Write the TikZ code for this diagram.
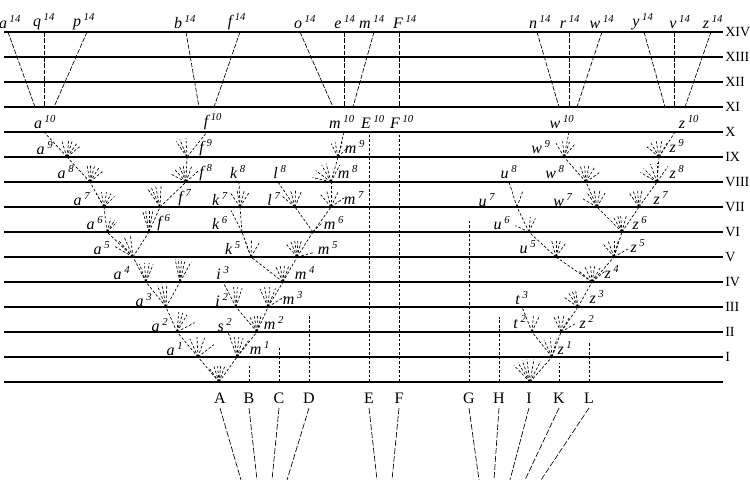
\documentclass[tikz,border=0pt]{standalone}
\usepackage{fontspec}
\setmainfont{Liberation Serif}
\usepackage{tikz}

\begin{document}
\begin{tikzpicture}[x=0.75pt,y=0.75pt,yscale=-1,xscale=1,
  rule/.style={line width=0.8pt},
  tree/.style={line width=0.5pt,dash pattern=on 2pt off 1.4pt},
  upper/.style={line width=0.5pt,dash pattern=on 3.5pt off 1.2pt},
  lower/.style={line width=0.5pt,dash pattern=on 4.5pt off 1.5pt},
  lab/.style={inner sep=0pt,font=\fontsize{12}{14}\selectfont\itshape},
  anc/.style={inner sep=0pt,font=\fontsize{12}{14}\selectfont},
  era/.style={inner sep=0pt,anchor=west,font=\fontsize{10.5}{12}\selectfont}]
%uncomment if require: \path (0,492); %set diagram left start at 0, and has height of 492
\useasboundingbox (0,0) rectangle (750,492);

% Generation lines
\foreach \lev/\num in {0/{},1/I,2/II,3/III,4/IV,5/V,6/VI,7/VII,8/VIII,9/IX,10/X,11/XI,12/XII,13/XIII,14/XIV}{
  \coordinate (w\lev) at (4,382-25*\lev);
  \coordinate (e\lev) at (723,382-25*\lev);
  \draw[rule] (w\lev) -- (e\lev);
  \node[era] (era\lev) at (725,382-25*\lev) {\num};
}

% Tree points
\foreach \n/\x/\y in {A/219/382,a1/198/357,a2/177/332,a3/166/307,a4/146/282,x4/180/282,a5/133/257,
  a6/107/232,f6/149/232,a7/104/207,f7/160/207,a8/90/182,f8/186/182,a9/67/157,f9/187/157,
  a10/44/132,f10/207/132,
  m1/237/357,s2/228/332,m2/257/332,i2/236/307,m3/268/307,i3/223/282,m4/283/282,k5/251/257,
  m5/297/257,k6/242/232,m6/313/232,k7/240/207,l7/295/207,m7/331/207,k8/239/182,l8/278/182,
  m8/331/182,m9/338/157,m10/344/132,
  I/530/382,z1/552/357,t2/532/332,z2/561/332,t3/522/307,z3/578/307,z4/592/282,u5/556/257,
  z5/614/257,u6/529/232,z6/622/232,u7/517/207,w7/597/207,z7/639/207,u8/509/182,w8/586/182,
  z8/657/182,w9/564/157,z9/659/157,w10/569/132,z10/675/132}
  \coordinate (\n) at (\x,\y);

% Connection
\foreach \p/\q in {A/a1,a1/a2,a2/a3,a3/a4,a3/x4,a4/a5,a5/a6,a5/f6,a6/a7,a7/a8,a8/a9,a9/a10,
  f6/f7,f7/f8,f8/f9,f9/f10,
  A/m1,m1/s2,m1/m2,m2/i2,i2/i3,m2/m3,m3/m4,m4/k5,m4/m5,k5/k6,k6/k7,k7/k8,m5/m6,m6/l7,l7/l8,
  m6/m7,m7/m8,m8/m9,m9/m10,
  I/z1,z1/t2,t2/t3,z1/z2,z2/z3,z3/z4,z4/u5,z4/z5,u5/u6,u6/u7,u7/u8,z5/z6,z6/w7,z6/z7,
  w7/w8,w8/w9,w9/w10,z7/z8,z8/z9,z9/z10}
  \draw[tree] (\p) -- (\q);

% Fans of short lines
\foreach \n/\len/\angs in {A/18/{-125,-108,-95,-84,-70},a1/20/{-114,-93,-71,-38},
  m1/20/{-98,-85,-72,-55},a2/20/{-85,-73,-60,-28},m2/16/{-115,-100,-88,-76},
  a3/23/{-112,-100,-88},x4/23/{-102,-94,-86,-77,-61},a4/19/{-110,-95,-80,-68},
  i2/20/{-97,-86,-72},m3/20/{-114,-100,-85,-68,-32},m4/18/{-115,-100,-85,-70},
  a5/21/{-150,-131,-114,-97},k5/18/{-110,-88,-60},m5/18/{-130,-112,-98,-87,-75,-15},
  a6/14/{-74,-56,-45},f6/22/{-107,-99,-90,-80},k6/24/{-117},m6/12/{-45},
  a7/15/{-120,-100,-80,-62,-45},f7/22/{-124,-114,-102,-87},k7/17/{-124,-100,-75,-58},
  l7/17/{-140,-105,-88,-68},m7/16/{-130,-105,-65,-35},a8/18/{-100,-88,-74,-58,-40},
  f8/18/{-152,-132,-113,-100,-70,-42},m8/19/{-166,-143,-119,-105,-63},
  a9/17/{-108,-84,-72,-54,-39},f9/19/{-125,-112,-93},m9/15/{-117,-101,-74,-45},
  I/23/{-134,-122,-110,-98,-80,-63},z1/19/{-115,-95,-75},t2/18/{-85,-65},
  z2/18/{-115,-100,-80,-60,-30},z3/18/{-145,-124,-110,-98},z4/18/{-140,-115,-95,-80,-60,-40},
  u5/17/{-105,-90,-75,-55},z5/17/{-130,-110,-90,-75,-30},u6/15/{-155,-85,-65},
  z6/18/{-120,-105,-95,-75},u7/18/{-70},w7/18/{-150,-125,-100,-80,-60},
  z7/18/{-125,-110,-95,-80},w8/18/{-110,-95,-80,-60,-35},z8/19/{-150,-135,-110,-90,-55},
  w9/16/{-120,-95,-70,-50},z9/16/{-140,-120,-100,-80,-60}}{
  \foreach \ang in \angs \draw[tree] (\n) -- ++(\ang:\len);
  \fill (\n) circle (0.8);
}

% Unbranched forms
\foreach \n/\x/\t in {B/249/364,C/279/347,D/309/314,E/369/133,F/399/133,G/469/221,H/499/317,K/559/363,L/589/342}{
  \coordinate (\n) at (\x,382);
  \coordinate (\n-top) at (\x,\t);
  \draw[tree] (\n) -- (\n-top);
}

% Generations XI to XIV
\foreach \n/\t/\b in {a/8/35,q/44/44,p/87/54,b/186/199,f/240/214,o/300/333,e/344/344,m/374/353,
  F/399/399,n/537/559,r/569/569,w/602/577,y/644/665,v/674/674,z/711/685}{
  \coordinate (\n14) at (\t,32);
  \coordinate (\n11) at (\b,107);
  \draw[upper] (\n14) -- (\n11);
}

% Text Node
\foreach \n/\x in {a/10,q/44,p/84,b/185,f/237,o/305,e/345,m/372,F/405,n/540,r/570,w/602,y/643,v/680,z/713}
  \node[lab] (\n14-lab) at (\x,22) {\n\,\textsuperscript{14}};

% Text Node
\foreach \n/\l/\s/\x/\y in {a1/a/1/175/349,a2/a/2/160/325,a3/a/3/144/300,a4/a/4/122/273,
  a5/a/5/102/248,a6/a/6/95/223,a7/a/7/82/199,a8/a/8/66/172,a9/a/9/45/148,a10/a/10/45/122,
  f6/f/6/164/223,f7/f/7/185/198,f8/f/8/206/173,f9/f/9/206/148,f10/f/10/213/122,
  s2/s/2/225/325,i2/i/2/222/300,i3/i/3/223/273,m1/m/1/260/348,m2/m/2/274/323,m3/m/3/293/298,
  m4/m/4/305/273,m5/m/5/328/248,m6/m/6/334/223,m7/m/7/354/198,m8/m/8/348/172,m9/m/9/355/147,
  m10/m/10/342/122,k5/k/5/233/248,k6/k/6/220/223,k7/k/7/220/199,k8/k/8/238/172,
  l7/l/7/274/199,l8/l/8/280/172,E10/E/10/373/122,F10/F/10/402/122,
  z1/z/1/565/348,t2/t/2/520/322,z2/z/2/587/322,t3/t/3/522/298,z3/z/3/597/297,z4/z/4/612/272,
  u5/u/5/528/247,z5/z/5/638/246,u6/u/6/502/223,z6/z/6/640/223,u7/u/7/487/200,w7/w/7/563/200,
  z7/z/7/661/198,u8/u/8/509/172,w8/w/8/555/172,z8/z/8/677/172,w9/w/9/541/147,z9/z/9/677/146,
  w10/w/10/562/122,z10/z/10/689/122}
  \node[lab] (\n-lab) at (\x,\y) {\l\,\textsuperscript{\s}};

% Ancestral species and their lines
\foreach \n/\x/\b in {A/220/241,B/249/257,C/279/272,D/309/287,E/369/377,F/399/392,
  G/469/479,H/499/494,I/529/510,K/559/525,L/589/541}{
  \node[anc] (\n-lab) at (\x,398) {\n};
  \coordinate (\n-s) at (\x,408);
  \coordinate (\n-e) at (\b,480);
  \draw[lower] (\n-s) -- (\n-e);
}

\end{tikzpicture}
\end{document}
